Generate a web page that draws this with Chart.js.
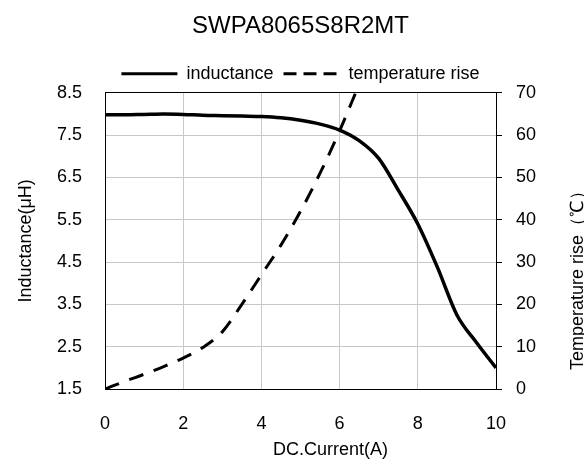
<!DOCTYPE html>
<html>
<head>
<meta charset="utf-8">
<title>SWPA8065S8R2MT</title>
<script src="https://cdn.jsdelivr.net/npm/chart.js@4.4.1/dist/chart.umd.min.js"></script>
<style>
    html, body { margin: 0; padding: 0; background: #fff; overflow: hidden; }
    #wrap { width: 584px; height: 463px; }
</style>
</head>
<body>
<div id="wrap"><canvas id="chart" width="584" height="463"></canvas></div>
<script>
// DC current (A) sample points
const currents = [0, 0.5, 1, 1.5, 2, 2.5, 3, 3.5, 4, 4.5, 5, 5.5, 6, 6.5, 7, 7.5, 8, 8.5, 9, 9.5, 10];
// inductance (uH) at each current
const inductance = [7.98, 7.98, 7.99, 8.0, 7.99, 7.97, 7.96, 7.95, 7.94, 7.91, 7.85, 7.76, 7.62, 7.37, 6.95, 6.2, 5.4, 4.38, 3.25, 2.6, 2.0];
// temperature rise (C), measured only up to 6.5 A
const tempCurrents = [0, 0.5, 1, 1.5, 2, 2.5, 3, 3.5, 4, 4.5, 5, 5.5, 6, 6.5];
const tempRise = [0, 1.8, 3.5, 5.3, 7.3, 9.8, 13.5, 20, 27, 34, 42, 51, 61, 72];

const xTicks = [0, 2, 4, 6, 8, 10];
const leftTicks = [1.5, 2.5, 3.5, 4.5, 5.5, 6.5, 7.5, 8.5];
const rightTicks = [0, 10, 20, 30, 40, 50, 60, 70];

const FONT = "'Liberation Sans', Arial, sans-serif";
Chart.defaults.font.family = FONT;
Chart.defaults.font.size = 18;
Chart.defaults.color = '#000';

const GRID = '#c8c8c8';

// x title sits right of centre and the right title is cut by the edge in the original
const extraTitles = {
    id: 'extraTitles',
    afterDraw(chart) {
        const ctx = chart.ctx;
        const area = chart.chartArea;
        ctx.save();
        ctx.fillStyle = '#000';
        ctx.font = '18px ' + FONT;
        ctx.textAlign = 'center';
        ctx.textBaseline = 'middle';
        ctx.fillText('DC.Current(A)', (area.left + area.right) / 2 + 30, 450);

        ctx.translate(583, 370);
        ctx.rotate(-Math.PI / 2);
        ctx.textAlign = 'left';
        ctx.textBaseline = 'alphabetic';
        ctx.fillText('Temperature rise\uFF08\u2103\uFF09', 0, 0);
        ctx.restore();
    }
};

const ctx = document.getElementById('chart').getContext('2d');

new Chart(ctx, {
    type: 'line',
    data: {
        datasets: [{
            label: 'inductance',
            data: currents.map((c, i) => ({ x: c, y: inductance[i] })),
            yAxisID: 'y',
            borderColor: '#000',
            borderWidth: 3.5,
            pointRadius: 0,
            cubicInterpolationMode: 'monotone',
            fill: false
        }, {
            label: 'temperature rise',
            data: tempCurrents.map((c, i) => ({ x: c, y: tempRise[i] })),
            yAxisID: 'y1',
            borderColor: '#000',
            borderWidth: 3,
            borderDash: [15, 11],
            pointRadius: 0,
            cubicInterpolationMode: 'monotone',
            fill: false
        }]
    },
    options: {
        responsive: false,
        animation: false,
        layout: { padding: { top: 6, left: 0, right: 0, bottom: 0 } },
        plugins: {
            title: {
                display: true,
                text: 'SWPA8065S8R2MT',
                fullSize: false,
                color: '#000',
                font: { size: 24, weight: 'normal' },
                padding: { top: 6, bottom: 14 }
            },
            legend: {
                fullSize: false,
                labels: {
                    usePointStyle: true,
                    pointStyle: 'line',
                    pointStyleWidth: 56,
                    padding: 10,
                    color: '#000',
                    font: { size: 18 },
                    generateLabels: (chart) => Chart.defaults.plugins.legend.labels.generateLabels(chart).map(item => {
                        item.lineWidth = 3;
                        item.strokeStyle = '#000';
                        item.lineDash = item.datasetIndex === 1 ? [13, 7] : [];
                        return item;
                    })
                }
            },
            tooltip: { enabled: false }
        },
        scales: {
            x: {
                type: 'linear',
                position: 'bottom',
                min: 0,
                max: 10,
                afterBuildTicks: (scale) => { scale.ticks = xTicks.map(v => ({ value: v })); },
                afterFit: (scale) => { scale.height = 74; },
                ticks: { padding: 24, color: '#000' },
                grid: { color: GRID, drawTicks: false },
                border: { color: '#000', width: 1 }
            },
            xTop: {
                type: 'linear',
                position: 'top',
                min: 0,
                max: 10,
                afterFit: (scale) => { scale.height = 0; },
                ticks: { display: false },
                grid: { drawOnChartArea: false, drawTicks: false },
                border: { color: '#000', width: 1 }
            },
            y: {
                type: 'linear',
                position: 'left',
                min: 1.5,
                max: 8.5,
                afterBuildTicks: (scale) => { scale.ticks = leftTicks.map(v => ({ value: v })); },
                afterFit: (scale) => { scale.width = 105; },
                ticks: { padding: 23, color: '#000', callback: (v) => v.toFixed(1) },
                grid: { color: GRID, drawTicks: false },
                border: { color: '#000', width: 1 },
                title: {
                    display: true,
                    text: 'Inductance(\u03BCH)',
                    color: '#000',
                    font: { size: 18 },
                    padding: { top: 15, bottom: 0 }
                }
            },
            y1: {
                type: 'linear',
                position: 'right',
                min: 0,
                max: 70,
                afterBuildTicks: (scale) => { scale.ticks = rightTicks.map(v => ({ value: v })); },
                afterFit: (scale) => { scale.width = 88; },
                ticks: { padding: 14, color: '#000' },
                grid: { drawOnChartArea: false, drawTicks: true, tickLength: 6, tickColor: '#000' },
                border: { color: '#000', width: 1 }
            }
        }
    },
    plugins: [extraTitles]
});
</script>
</body>
</html>
